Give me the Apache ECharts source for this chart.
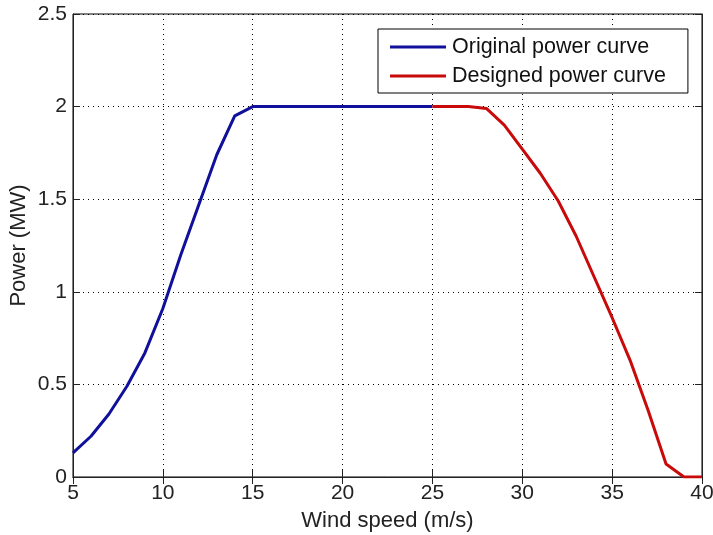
<!DOCTYPE html>
<html><head><meta charset="utf-8">
<script src="https://cdn.jsdelivr.net/npm/echarts@6/dist/echarts.min.js"></script>
<style>html,body{margin:0;padding:0;background:#fff}#c{width:713px;height:535px}</style>
</head><body><div id="c"></div>
<script>
var originalX = [5,6,7,8,9,10,11,12,13,14,15,16,17,18,19,20,21,22,23,24,25];
var originalY = [0.13,0.22,0.34,0.49,0.67,0.91,1.2,1.47,1.74,1.95,2.0,2.0,2.0,2.0,2.0,2.0,2.0,2.0,2.0,2.0,2.0];
var designedX = [25,26,27,28,29,30,31,32,33,34,35,36,37,38,39,40];
var designedY = [2.0,2.0,2.0,1.99,1.9,1.77,1.64,1.49,1.3,1.08,0.86,0.63,0.36,0.07,0,0];
var seriesNames = ['Original power curve','Designed power curve'];
var xTitle = 'Wind speed (m/s)', yTitle = 'Power (MW)';

function pairs(xs, ys){ return xs.map(function(x,i){return [x, ys[i]];}); }
var font = 'Liberation Sans, Arial, sans-serif';
var chart = echarts.init(document.getElementById('c'));
chart.setOption({
  animation:false,
  backgroundColor:'#fff',
  grid:{left:73,right:11,top:14,bottom:58,containLabel:false,outerBoundsMode:'none',
        show:true,borderColor:'#000',borderWidth:1,backgroundColor:'transparent'},
  legend:{
    orient:'vertical', left:378, top:29,
    backgroundColor:'#fff', borderColor:'#000', borderWidth:1,
    padding:[7,22,6,12], itemGap:7, itemWidth:56, itemHeight:3,
    icon:'rect',
    textStyle:{fontFamily:font,fontSize:21.5,lineHeight:21,color:'#111',padding:[0,0,0,1]},
    data:seriesNames
  },
  xAxis:[{
    type:'value', min:5, max:40, interval:5,
    name:xTitle, nameLocation:'middle', nameGap:33, nameMoveOverlap:false,
    nameTextStyle:{fontFamily:font,fontSize:22,color:'#222'},
    axisLine:{show:true,lineStyle:{color:'#222',width:1}},
    axisTick:{show:true,inside:true,length:7,lineStyle:{color:'#222'}},
    axisLabel:{fontFamily:font,fontSize:21,color:'#222',margin:6},
    splitLine:{show:true,lineStyle:{color:'#000',type:[1,4],width:1}}
  },{
    type:'value', min:5, max:40, interval:5, position:'top',
    axisLine:{show:true,lineStyle:{color:'#222'}},
    axisTick:{show:true,inside:true,length:7,lineStyle:{color:'#222'}},
    axisLabel:{show:false}, splitLine:{show:false}
  }],
  yAxis:[{
    type:'value', min:0, max:2.5, interval:0.5,
    name:yTitle, nameLocation:'middle', nameGap:43, nameMoveOverlap:false,
    nameTextStyle:{fontFamily:font,fontSize:22,color:'#222'},
    axisLine:{show:true,lineStyle:{color:'#222',width:1}},
    axisTick:{show:true,inside:true,length:7,lineStyle:{color:'#222'}},
    axisLabel:{fontFamily:font,fontSize:21,color:'#222',margin:6},
    splitLine:{show:true,lineStyle:{color:'#000',type:[1,4],width:1}}
  },{
    type:'value', min:0, max:2.5, interval:0.5, position:'right',
    axisLine:{show:true,lineStyle:{color:'#222'}},
    axisTick:{show:true,inside:true,length:7,lineStyle:{color:'#222'}},
    axisLabel:{show:false}, splitLine:{show:false}
  }],
  series:[
    {name:seriesNames[0],type:'line',data:pairs(originalX,originalY),showSymbol:false,symbol:'none',
     lineStyle:{color:'#10109a',width:3},itemStyle:{color:'#10109a'},z:3},
    {name:seriesNames[1],type:'line',data:pairs(designedX,designedY),showSymbol:false,symbol:'none',
     lineStyle:{color:'#c80a0a',width:3},itemStyle:{color:'#c80a0a'},z:3}
  ]
});
</script></body></html>
